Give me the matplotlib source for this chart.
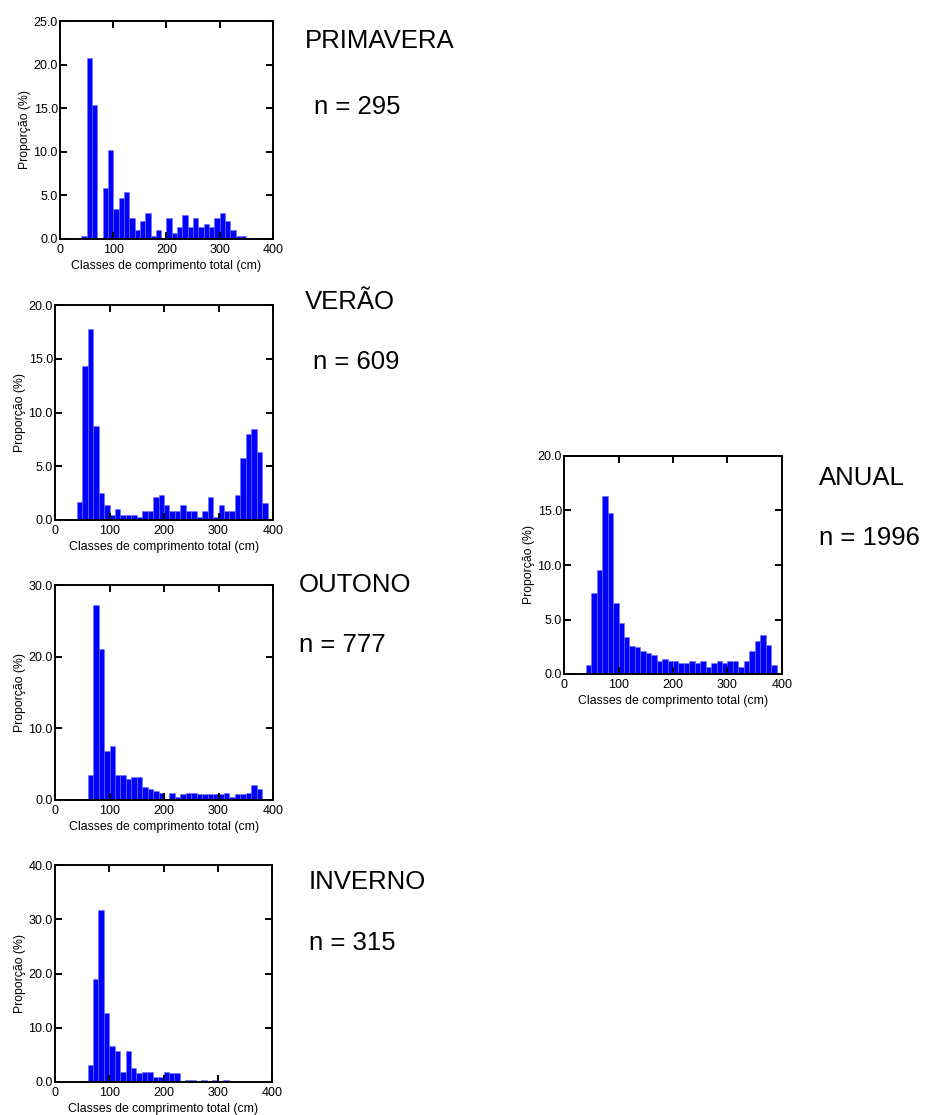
import numpy as np
import matplotlib
matplotlib.use("Agg")
import matplotlib.pyplot as plt

plt.rcParams['font.family'] = ['Liberation Sans', 'DejaVu Sans']

# classes de 10 cm, inicio de cada classe
classes = np.arange(0, 400, 10)

# proporcoes (%) por classe, 0-390
primavera = [0, 0, 0, 0, 0.3, 20.7, 15.3, 0, 5.8, 10.2,
             3.4, 4.7, 5.4, 2.4, 1.0, 2.0, 3.0, 0.3, 1.0, 0.05,
             2.4, 0.7, 1.4, 2.7, 1.4, 2.4, 1.4, 1.7, 1.4, 2.4,
             3.0, 2.0, 1.0, 0.3, 0.3, 0.05, 0.05, 0.05, 0.05, 0.05]
verao = [0, 0, 0, 0, 1.7, 14.3, 17.8, 8.7, 2.5, 1.4,
         0.5, 1.0, 0.5, 0.5, 0.5, 0.3, 0.8, 0.8, 2.1, 2.3,
         1.4, 0.8, 0.8, 1.4, 0.8, 0.8, 0.3, 0.8, 2.1, 0.3,
         1.4, 0.8, 0.8, 2.3, 5.8, 8.0, 8.5, 6.3, 1.6, 0]
outono = [0, 0, 0, 0, 0.13, 0.13, 3.5, 27.2, 21.1, 6.8,
          7.6, 3.5, 3.5, 2.9, 3.2, 3.2, 1.8, 1.5, 1.3, 1.0,
          0.13, 1.0, 0.4, 0.8, 1.0, 1.0, 0.8, 0.8, 0.8, 0.8,
          0.8, 1.0, 0.4, 0.8, 0.8, 1.0, 2.1, 1.5, 0.13, 0]
inverno = [0, 0, 0, 0, 0.05, 0.05, 3.2, 19.0, 31.7, 12.7,
           6.7, 5.7, 1.9, 5.7, 2.5, 1.6, 1.9, 1.9, 1.0, 1.0,
           1.9, 1.6, 1.6, 0.05, 0.3, 0.3, 0.05, 0.3, 0.05, 0.3,
           0.05, 0.3, 0.05, 0.05, 0.05, 0.05, 0.05, 0.05, 0.05, 0.05]
anual = [0, 0, 0, 0, 0.8, 7.4, 9.5, 16.3, 14.8, 6.5,
         4.7, 3.4, 2.6, 2.5, 2.1, 1.9, 1.7, 1.2, 1.4, 1.2,
         1.2, 1.0, 1.0, 1.2, 1.0, 1.2, 0.6, 1.0, 1.2, 1.0,
         1.2, 1.2, 0.6, 1.2, 2.1, 3.0, 3.6, 2.7, 0.8, 0]

estacoes = ['PRIMAVERA', 'VERÃO', 'OUTONO', 'INVERNO', 'ANUAL']
n_amostra = [295, 609, 777, 315, 1996]
ymax = [25, 20, 30, 40, 20]
ystep = [5, 5, 10, 10, 5]
dados = [primavera, verao, outono, inverno, anual]

W, H = 936, 1115
fig = plt.figure(figsize=(W / 100, H / 100), dpi=100)

# caixas dos eixos em pixels: esquerda, topo, direita, base
caixas = [(60, 21, 273, 238.7),
          (55, 305, 273, 520),
          (55, 585, 273, 800),
          (55, 865, 272, 1082),
          (564, 456, 782, 674)]
# posicao dos titulos e do n (pixels)
pos_titulo = [(305, 41), (305, 302), (299, 585), (309, 882), (819, 478)]
pos_n = [(314, 107), (313, 362), (299, 645), (309, 943), (819, 538)]

for i in range(5):
    l, t, r, b = caixas[i]
    ax = fig.add_axes([l / W, 1 - b / H, (r - l) / W, (b - t) / H])
    ax.bar(classes, dados[i], width=10, align='edge', color='#0000ff',
           edgecolor='#6f6fff', linewidth=0.4)
    ax.set_xlim(0, 400)
    ax.set_ylim(0, ymax[i])
    ax.set_xticks([0, 100, 200, 300, 400])
    ax.set_yticks(np.arange(0, ymax[i] + 0.1, ystep[i]))
    ax.set_yticklabels(['%.1f' % v for v in np.arange(0, ymax[i] + 0.1, ystep[i])])
    ax.tick_params(direction='in', top=True, right=True, length=5, width=1.4,
                   labelsize=9)
    ax.tick_params(axis='x', pad=3.5)
    ax.tick_params(axis='y', pad=1.5)
    for s in ax.spines.values():
        s.set_linewidth(1.4)
    ax.set_xlabel('Classes de comprimento total (cm)', fontsize=8.8, labelpad=3)
    ax.set_ylabel('Proporção (%)', fontsize=8.8, labelpad=2)

    fig.text(pos_titulo[i][0] / W, 1 - pos_titulo[i][1] / H, estacoes[i],
             fontsize=18.5, va='center', ha='left')
    fig.text(pos_n[i][0] / W, 1 - pos_n[i][1] / H, 'n = %d' % n_amostra[i],
             fontsize=18.5, va='center', ha='left')

fig.savefig('out.png', dpi=100)
